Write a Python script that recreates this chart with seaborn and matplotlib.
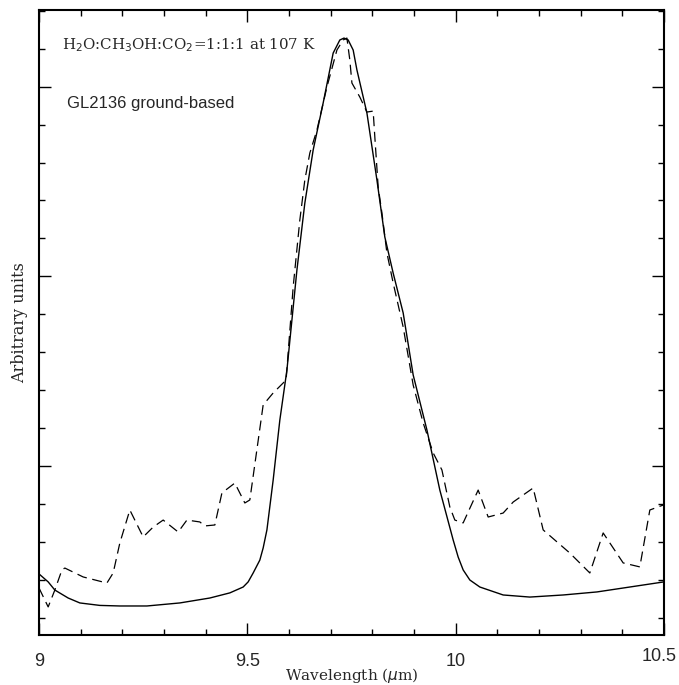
import numpy as np
import pandas as pd
import matplotlib
matplotlib.use("Agg")
import matplotlib.pyplot as plt
import matplotlib.transforms as mtransforms
import seaborn as sns
from matplotlib.ticker import MultipleLocator, NullFormatter, FixedLocator

# Laboratory spectrum (solid): H2O:CH3OH:CO2 = 1:1:1 at 107 K
lab_wavelength = [9.000, 9.022, 9.038, 9.070, 9.098, 9.146, 9.194, 9.259, 9.338, 9.410,
                  9.458, 9.490, 9.502, 9.514, 9.530, 9.538, 9.547, 9.562, 9.578, 9.595,
                  9.619, 9.638, 9.658, 9.682, 9.706, 9.722, 9.732, 9.742, 9.754, 9.763,
                  9.787, 9.811, 9.830, 9.850, 9.874, 9.898, 9.931, 9.962, 9.994, 10.006,
                  10.018, 10.034, 10.058, 10.114, 10.178, 10.258, 10.339, 10.418, 10.500]
lab_flux = [0.431, 0.389, 0.346, 0.304, 0.278, 0.265, 0.262, 0.262, 0.278, 0.304,
            0.331, 0.362, 0.389, 0.436, 0.504, 0.568, 0.663, 0.926, 1.242, 1.506,
            2.033, 2.386, 2.666, 2.914, 3.177, 3.246, 3.256, 3.246, 3.193, 3.088,
            2.861, 2.508, 2.207, 2.017, 1.807, 1.480, 1.190, 0.873, 0.610, 0.520,
            0.452, 0.399, 0.362, 0.320, 0.309, 0.320, 0.336, 0.362, 0.389]

# Observed spectrum (dashed): GL2136 ground-based
obs_wavelength = [9.000, 9.022, 9.038, 9.055, 9.062, 9.106, 9.163, 9.178, 9.194, 9.218,
                  9.250, 9.274, 9.298, 9.334, 9.355, 9.386, 9.398, 9.422, 9.439, 9.470,
                  9.494, 9.506, 9.538, 9.562, 9.593, 9.610, 9.626, 9.638, 9.650, 9.667,
                  9.691, 9.715, 9.730, 9.739, 9.746, 9.751, 9.770, 9.787, 9.802, 9.806,
                  9.814, 9.823, 9.835, 9.850, 9.874, 9.898, 9.922, 9.946, 9.967, 9.986,
                  9.998, 10.018, 10.054, 10.078, 10.114, 10.138, 10.186, 10.210, 10.274, 10.322,
                  10.354, 10.402, 10.442, 10.466, 10.498]
obs_flux = [0.357, 0.257, 0.346, 0.452, 0.462, 0.415, 0.383, 0.436, 0.594, 0.768,
            0.626, 0.678, 0.715, 0.652, 0.715, 0.705, 0.684, 0.689, 0.858, 0.910,
            0.805, 0.821, 1.322, 1.385, 1.453, 1.944, 2.297, 2.508, 2.650, 2.771,
            2.998, 3.193, 3.246, 3.256, 3.140, 3.019, 2.945, 2.866, 2.871, 2.734,
            2.471, 2.334, 2.123, 1.965, 1.733, 1.427, 1.227, 1.069, 0.979, 0.784,
            0.715, 0.700, 0.873, 0.731, 0.752, 0.810, 0.884, 0.663, 0.541, 0.436,
            0.647, 0.489, 0.468, 0.768, 0.794]

x_ticks = [9, 9.5, 10, 10.5]
x_tick_labels = ["9", "9.5", "10", "10.5"]

lab_df = pd.DataFrame({"wl": lab_wavelength, "flux": lab_flux})
obs_df = pd.DataFrame({"wl": obs_wavelength, "flux": obs_flux})

sns.set_style("ticks")
plt.rcParams["font.family"] = ["DejaVu Sans"]

fig = plt.figure(figsize=(6.79, 6.85), dpi=100)
ax = fig.add_axes([39 / 679, 50 / 685, 625 / 679, 625 / 685])

sns.lineplot(data=lab_df, x="wl", y="flux", ax=ax, color="black", lw=1.0, sort=False)
sns.lineplot(data=obs_df, x="wl", y="flux", ax=ax, color="black", lw=0.9,
             dashes=False, sort=False)
ax.lines[-1].set_dashes([8, 4.5])

ax.set_xlim(9, 10.5)
ax.set_ylim(0.109, 3.404)

ax.xaxis.set_major_locator(FixedLocator(x_ticks))
# last label drawn separately so it can sit flush with the figure edge
ax.set_xticklabels(x_tick_labels[:-1] + [""], family="Liberation Sans", fontsize=13)
ax.xaxis.set_minor_locator(MultipleLocator(0.1))
ax.yaxis.set_major_locator(MultipleLocator(1.0))
ax.yaxis.set_minor_locator(MultipleLocator(0.2))
ax.yaxis.set_major_formatter(NullFormatter())

ax.tick_params(which="both", direction="in", top=True, right=True, width=1.0, color="black")
ax.tick_params(which="major", length=8.5)
ax.tick_params(which="minor", length=4.5)
ax.tick_params(axis="x", which="major", pad=13)

trans = mtransforms.blended_transform_factory(ax.transData, ax.transAxes)
trans = trans + mtransforms.ScaledTranslation(13 / 100, 0, fig.dpi_scale_trans)
ax.text(x_ticks[-1], -0.0208, x_tick_labels[-1], transform=trans, ha="right", va="top",
        family="Liberation Sans", fontsize=13, clip_on=False)

for s in ax.spines.values():
    s.set_linewidth(1.5)
    s.set_color("black")

ax.set_xlabel(r"Wavelength ($\mu$m)", family="DejaVu Serif", fontsize=11, labelpad=0)
ax.set_ylabel("Arbitrary units", family="DejaVu Serif", fontsize=11.5, labelpad=4)
ax.xaxis.set_label_coords(0.5, -0.0496)

ax.text(0.037, 0.944, r"H$_2$O:CH$_3$OH:CO$_2$=1:1:1 at 107 K", transform=ax.transAxes,
        family="DejaVu Serif", fontsize=10.8, ha="left", va="center")
ax.text(0.045, 0.85, "GL2136 ground-based", transform=ax.transAxes,
        family="Liberation Sans", fontsize=12, ha="left", va="center")

fig.savefig("out.png", dpi=100)
